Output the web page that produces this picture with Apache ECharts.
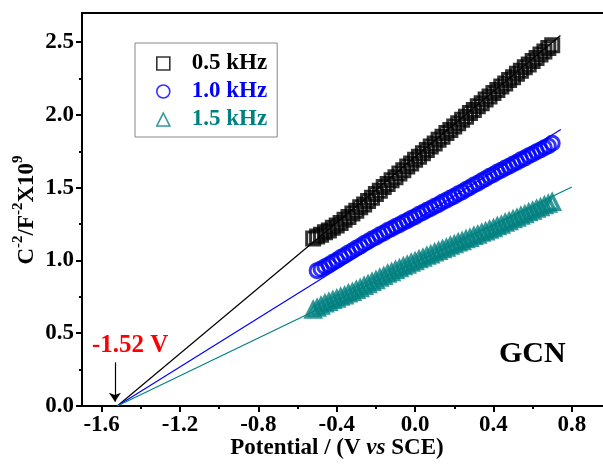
<!DOCTYPE html>
<html>
<head>
<meta charset="utf-8">
<script src="https://cdn.jsdelivr.net/npm/echarts@6/dist/echarts.min.js"></script>
<style>html,body{margin:0;padding:0;background:#fff;overflow:hidden}#c{width:603px;height:466px}</style>
</head>
<body>
<div id="c"></div>
<script>
// ---- data ----
const potentialBlack = [-0.52,-0.50,-0.48,-0.46,-0.44,-0.42,-0.40,-0.38,-0.36,-0.34,-0.32,-0.30,-0.28,-0.26,-0.24,-0.22,-0.20,-0.18,-0.16,-0.14,-0.12,-0.10,-0.08,-0.06,-0.04,-0.02,0.00,0.02,0.04,0.06,0.08,0.10,0.12,0.14,0.16,0.18,0.20,0.22,0.24,0.26,0.28,0.30,0.32,0.34,0.36,0.38,0.40,0.42,0.44,0.46,0.48,0.50,0.52,0.54,0.56,0.58,0.60,0.62,0.64,0.66,0.68,0.70];
const c05kHz = [1.150,1.164,1.176,1.193,1.206,1.224,1.240,1.258,1.280,1.299,1.322,1.341,1.365,1.385,1.409,1.431,1.457,1.479,1.504,1.525,1.551,1.572,1.598,1.619,1.645,1.666,1.691,1.712,1.737,1.758,1.783,1.804,1.829,1.850,1.875,1.896,1.921,1.942,1.967,1.988,2.013,2.034,2.059,2.080,2.105,2.126,2.150,2.171,2.195,2.215,2.239,2.259,2.283,2.303,2.327,2.347,2.371,2.391,2.415,2.435,2.459,2.478];
const potentialBlue = [-0.50,-0.48,-0.46,-0.44,-0.42,-0.40,-0.38,-0.36,-0.34,-0.32,-0.30,-0.28,-0.26,-0.24,-0.22,-0.20,-0.18,-0.16,-0.14,-0.12,-0.10,-0.08,-0.06,-0.04,-0.02,0.00,0.02,0.04,0.06,0.08,0.10,0.12,0.14,0.16,0.18,0.20,0.22,0.24,0.26,0.28,0.30,0.32,0.34,0.36,0.38,0.40,0.42,0.44,0.46,0.48,0.50,0.52,0.54,0.56,0.58,0.60,0.62,0.64,0.66,0.68,0.70];
const c10kHz = [0.930,0.941,0.957,0.970,0.988,1.002,1.020,1.034,1.052,1.066,1.084,1.098,1.116,1.130,1.147,1.160,1.177,1.189,1.205,1.217,1.233,1.245,1.261,1.273,1.289,1.301,1.317,1.329,1.345,1.357,1.373,1.385,1.401,1.413,1.429,1.441,1.458,1.471,1.488,1.501,1.518,1.531,1.548,1.561,1.578,1.591,1.607,1.619,1.635,1.647,1.663,1.675,1.691,1.703,1.719,1.731,1.747,1.759,1.775,1.787,1.805];
const potentialTeal = [-0.52,-0.50,-0.48,-0.46,-0.44,-0.42,-0.40,-0.38,-0.36,-0.34,-0.32,-0.30,-0.28,-0.26,-0.24,-0.22,-0.20,-0.18,-0.16,-0.14,-0.12,-0.10,-0.08,-0.06,-0.04,-0.02,0.00,0.02,0.04,0.06,0.08,0.10,0.12,0.14,0.16,0.18,0.20,0.22,0.24,0.26,0.28,0.30,0.32,0.34,0.36,0.38,0.40,0.42,0.44,0.46,0.48,0.50,0.52,0.54,0.56,0.58,0.60,0.62,0.64,0.66,0.68,0.70];
const c15kHz = [0.660,0.673,0.687,0.703,0.713,0.726,0.735,0.748,0.757,0.771,0.781,0.796,0.807,0.823,0.835,0.851,0.863,0.879,0.891,0.907,0.918,0.933,0.944,0.958,0.968,0.982,0.992,1.006,1.016,1.030,1.039,1.053,1.063,1.076,1.086,1.099,1.109,1.122,1.131,1.144,1.153,1.166,1.175,1.188,1.197,1.210,1.219,1.233,1.243,1.257,1.267,1.281,1.291,1.305,1.315,1.329,1.339,1.353,1.363,1.377,1.387,1.400];
// Mott-Schottky linear fits: [x, y] end points (x-intercept at -1.52 V)
const fitBlackX = [-1.52, 0.742], fitBlackY = [0, 2.545];
const fitBlueX  = [-1.52, 0.744], fitBlueY  = [0, 1.900];
const fitTealX  = [-1.52, 0.800], fitTealY  = [0, 1.505];
const flatBandPotential = -1.52;
const xMajorTicks = [-1.6,-1.2,-0.8,-0.4,0.0,0.4,0.8];
const xMinorTicks = [-1.4,-1.0,-0.6,-0.2,0.2,0.6];
const yMajorTicks = [0.0,0.5,1.0,1.5,2.0,2.5];
const yMinorTicks = [0.25,0.75,1.25,1.75,2.25];
const seriesNames = ['0.5 kHz','1.0 kHz','1.5 kHz'];

const BLACK = '#000000', BLUE = '#0000ff', TEAL = '#008080';
const FONT = '"Liberation Serif", "Times New Roman", serif';
const zip = (a, b) => a.map((v, i) => [v, b[i]]);

const chart = echarts.init(document.getElementById('c'), null, {renderer: 'canvas'});
const axisLabelStyle = {fontFamily: FONT, fontWeight: 'bold', fontSize: 23, color: '#000'};

chart.setOption({
  animation: false,
  backgroundColor: '#fff',
  grid: {left: 82, top: 13, width: 529, bottom: 60, outerBoundsMode: 'none', containLabel: false, show: false},
  legend: {
    orient: 'vertical', left: 135, top: 43,
    padding: [9, 10, 6, 21], itemWidth: 13, itemHeight: 13, itemGap: 5,
    borderColor: '#888', borderWidth: 1, backgroundColor: '#fff',
    itemStyle: {borderWidth: 1.6},
    textStyle: {fontFamily: FONT, fontWeight: 'bold', fontSize: 23, padding: [0, 0, 0, 17]},
    data: [
      {name: seriesNames[0], textStyle: {color: BLACK}},
      {name: seriesNames[1], textStyle: {color: BLUE}},
      {name: seriesNames[2], textStyle: {color: TEAL}}
    ]
  },
  xAxis: [{
    type: 'value', min: -1.7, max: 1.0,
    name: '{b|Potential / (V }{i|vs}{b| SCE)}',
    nameLocation: 'middle', nameGap: 31, nameMoveOverlap: false,
    nameTextStyle: {padding: [0, 19, 0, 0], rich: {
      b: {fontFamily: FONT, fontWeight: 'bold', fontSize: 23, color: '#000'},
      i: {fontFamily: FONT, fontWeight: 'bold', fontStyle: 'italic', fontSize: 23, color: '#000'}}},
    axisLine: {onZero: false, lineStyle: {color: '#000', width: 2}},
    axisTick: {customValues: xMajorTicks, length: 6, lineStyle: {width: 2, color: '#000'}},
    axisLabel: {customValues: xMajorTicks, formatter: v => v.toFixed(1), margin: 8, ...axisLabelStyle},
    splitLine: {show: false}
  }, {
    type: 'value', min: -1.7, max: 1.0, position: 'bottom',
    axisLine: {show: false, onZero: false},
    axisTick: {customValues: xMinorTicks, length: 3, lineStyle: {width: 2, color: '#000'}},
    axisLabel: {show: false}, splitLine: {show: false}
  }, {
    type: 'value', min: -1.7, max: 1.0, position: 'top',
    axisLine: {show: true, onZero: false, lineStyle: {color: '#000', width: 2}},
    axisTick: {show: false}, axisLabel: {show: false}, splitLine: {show: false}
  }],
  yAxis: [{
    type: 'value', min: 0, max: 2.7,
    axisLine: {onZero: false, lineStyle: {color: '#000', width: 2}},
    axisTick: {customValues: yMajorTicks, length: 6, lineStyle: {width: 2, color: '#000'}},
    axisLabel: {customValues: yMajorTicks, formatter: v => v.toFixed(1), margin: 8, ...axisLabelStyle},
    splitLine: {show: false}
  }, {
    type: 'value', min: 0, max: 2.7, position: 'left',
    axisLine: {show: false, onZero: false},
    axisTick: {customValues: yMinorTicks, length: 3, lineStyle: {width: 2, color: '#000'}},
    axisLabel: {show: false}, splitLine: {show: false}
  }],
  graphic: [
    {type: 'text', x: 25, y: 210, rotation: Math.PI / 2,
     style: {text: '{b|C}{s|-2}{b|/F}{s|-2}{b|X10}{s|9}', align: 'center', verticalAlign: 'middle',
       rich: {
         b: {fontFamily: FONT, fontWeight: 'bold', fontSize: 23, fill: '#000', lineHeight: 28, verticalAlign: 'bottom'},
         s: {fontFamily: FONT, fontWeight: 'bold', fontSize: 15, fill: '#000', lineHeight: 28, verticalAlign: 'top'}
       }}},
    {type: 'text', left: 92, top: 333,
     style: {text: '-1.52 V', fontFamily: FONT, fontWeight: 'bold', fontSize: 25, fill: '#ff0000'}},
    {type: 'text', left: 499, top: 339,
     style: {text: 'GCN', fontFamily: FONT, fontWeight: 'bold', fontSize: 30, fill: '#000'}}
  ],
  series: [
    {name: seriesNames[0], type: 'scatter', data: zip(potentialBlack, c05kHz),
     symbol: 'rect', symbolSize: 13, itemStyle: {color: 'rgba(0,0,0,0)', borderColor: BLACK, borderWidth: 3}},
    {name: seriesNames[1], type: 'scatter', data: zip(potentialBlue, c10kHz),
     symbol: 'circle', symbolSize: 14, itemStyle: {color: 'rgba(0,0,0,0)', borderColor: BLUE, borderWidth: 3}},
    {name: seriesNames[2], type: 'scatter', data: zip(potentialTeal, c15kHz),
     symbol: 'triangle', symbolSize: 14, itemStyle: {color: 'rgba(0,0,0,0)', borderColor: TEAL, borderWidth: 3.5}},
    {name: 'fit 0.5', type: 'line', data: zip(fitBlackX, fitBlackY), symbol: 'none', z: 5,
     lineStyle: {color: BLACK, width: 1.2},
     markLine: {silent: true, symbol: ['none', 'arrow'], symbolSize: 9, label: {show: false},
       lineStyle: {color: '#000', width: 1.2, type: 'solid'},
       data: [[{coord: [flatBandPotential - 0.012, 0.30]}, {coord: [flatBandPotential - 0.012, 0.03]}]]}},
    {name: 'fit 1.0', type: 'line', data: zip(fitBlueX, fitBlueY), symbol: 'none', z: 5,
     lineStyle: {color: BLUE, width: 1.2}},
    {name: 'fit 1.5', type: 'line', data: zip(fitTealX, fitTealY), symbol: 'none', z: 5,
     lineStyle: {color: TEAL, width: 1.2}}
  ]
});
</script>
</body>
</html>
